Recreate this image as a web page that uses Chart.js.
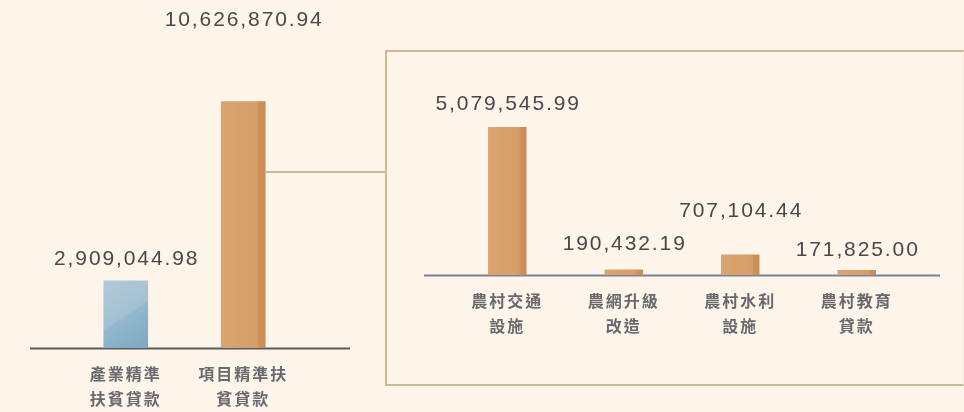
<!DOCTYPE html>
<html>
<head>
<meta charset="utf-8">
<script src="https://cdn.jsdelivr.net/npm/chart.js@4/dist/chart.umd.min.js"></script>
<style>
  html, body { margin: 0; padding: 0; background: #fdf5e9; }
  #stage { position: relative; width: 964px; height: 412px; overflow: hidden; background: #fdf5e9; }
  canvas { position: absolute; top: 0; }
  #mainChart { left: 0; }
  #detailChart { left: 385px; }
  #panel { position: absolute; left: 385px; top: 50px; width: 576px; height: 332px;
           border: 2px solid #d6b692; border-bottom-color: #cbb897; border-right-color: #f5eadb; }
  #link { position: absolute; left: 266px; top: 171px; width: 121px; height: 2px; background: #d6b692; }
</style>
</head>
<body>
<div id="stage">
  <div id="panel"></div>
  <div id="link"></div>
  <canvas id="mainChart" width="385" height="430"></canvas>
  <canvas id="detailChart" width="579" height="430"></canvas>
</div>
<script>
// Poverty-alleviation loan balances
const mainCategories = [['產業精準', '扶貧貸款'], ['項目精準扶', '貧貸款']];
const mainValues = [2909044.98, 10626870.94];

// Breakdown of project loans
const detailCategories = [['農村交通', '設施'], ['農網升級', '改造'], ['農村水利', '設施'], ['農村教育', '貸款']];
const detailValues = [5079545.99, 190432.19, 707104.44, 171825.00];

const NUM_FONT = "'Liberation Sans', Arial, sans-serif";
const CJK_FONT = "'Noto Sans CJK TC', 'Noto Sans CJK SC', sans-serif";

const fmt = v => v.toLocaleString('en-US', { minimumFractionDigits: 2, maximumFractionDigits: 2 });

// Fill for a bar, built from its own pixel box on the scales
function barFill(stops, diagonal, barPct) {
  return (c) => {
    const chart = c.chart;
    if (!chart.chartArea || c.type !== 'data') return stops[1][1];
    const xs = chart.scales.x, ys = chart.scales.y;
    const x = xs.getPixelForValue(c.dataIndex);
    const w = xs.width / chart.data.labels.length * barPct;
    const top = ys.getPixelForValue(c.raw), bottom = ys.getPixelForValue(0);
    const g = diagonal
      ? chart.ctx.createLinearGradient(x - w / 2, top, x + w / 2, bottom)
      : chart.ctx.createLinearGradient(x - w / 2, 0, x + w / 2, 0);
    stops.forEach(([o, col]) => g.addColorStop(o, col));
    return g;
  };
}

const blueStops = [[0, '#b3cad8'], [0.5, '#a3c0d2'], [0.53, '#93b7cd'], [1, '#7ca8c3']];
const orangeStops = [[0, '#daa470'], [0.8, '#d69d68'], [0.86, '#cd905a'], [1, '#ca8c57']];

// Baseline drawn under the bars, a little wider than the category band
const baseline = {
  id: 'baseline',
  beforeDatasetsDraw(chart, args, opts) {
    const { ctx, chartArea } = chart;
    ctx.save();
    ctx.strokeStyle = opts.color;
    ctx.lineWidth = 2;
    ctx.beginPath();
    ctx.moveTo(chartArea.left - opts.extendLeft, chartArea.bottom + 0.5);
    ctx.lineTo(chartArea.right + opts.extendRight, chartArea.bottom + 0.5);
    ctx.stroke();
    ctx.restore();
  }
};

// Value above each bar
const valueLabels = {
  id: 'valueLabels',
  beforeDraw(chart) { chart.ctx.letterSpacing = '2px'; },
  afterDatasetsDraw(chart, args, opts) {
    const { ctx } = chart;
    const meta = chart.getDatasetMeta(0);
    ctx.save();
    ctx.font = `${opts.size}px ${NUM_FONT}`;
    ctx.letterSpacing = opts.spacing + 'px';
    ctx.fillStyle = opts.color;
    ctx.textAlign = 'center';
    ctx.textBaseline = 'middle';
    meta.data.forEach((bar, i) => {
      const v = chart.data.datasets[0].data[i];
      ctx.fillText(fmt(v), bar.x + opts.spacing / 2, bar.y - opts.offsets[i]);
    });
    ctx.restore();
  },
  afterDraw(chart) { chart.ctx.letterSpacing = '0px'; }
};

function makeChart(id, labels, values, cfg) {
  return new Chart(document.getElementById(id), {
    type: 'bar',
    data: {
      labels: labels,
      datasets: [{
        data: values,
        backgroundColor: cfg.fill,
        borderWidth: 0,
        barPercentage: cfg.barPct,
        categoryPercentage: 1
      }]
    },
    options: {
      responsive: false,
      animation: false,
      events: [],
      layout: { padding: cfg.padding },
      plugins: {
        legend: { display: false },
        tooltip: { enabled: false },
        baseline: cfg.baseline,
        valueLabels: cfg.labels
      },
      scales: {
        x: {
          grid: { display: false, drawTicks: false },
          border: { display: false },
          ticks: {
            autoSkip: false,
            maxRotation: 0,
            padding: 13,
            color: '#68686f',
            font: { family: CJK_FONT, size: 16, weight: 'bold', lineHeight: 1.56 }
          }
        },
        y: { display: false, min: 0, max: cfg.yMax }
      }
    },
    plugins: [baseline, valueLabels]
  });
}

makeChart('mainChart', mainCategories, mainValues, {
  barPct: 0.38,
  fill: (c) => barFill(c.dataIndex === 0 ? blueStops : orangeStops, c.dataIndex === 0, 0.38)(c),
  padding: { left: 67, right: 83, top: 23, bottom: 6 },
  yMax: 14000000,
  baseline: { color: '#59595c', extendLeft: 37, extendRight: 48 },
  labels: { size: 21, spacing: 1.9, color: '#48484b', offsets: [21, 81] }
});

makeChart('detailChart', detailCategories, detailValues, {
  barPct: 0.33,
  fill: barFill(orangeStops, false, 0.33),
  padding: { left: 64, right: 49, top: 71, bottom: 79 },
  yMax: 7000000,
  baseline: { color: '#7d8199', extendLeft: 25, extendRight: 25 },
  labels: { size: 21, spacing: 1.9, color: '#48484b', offsets: [23, 25, 43, 20] }
});
</script>
</body>
</html>
